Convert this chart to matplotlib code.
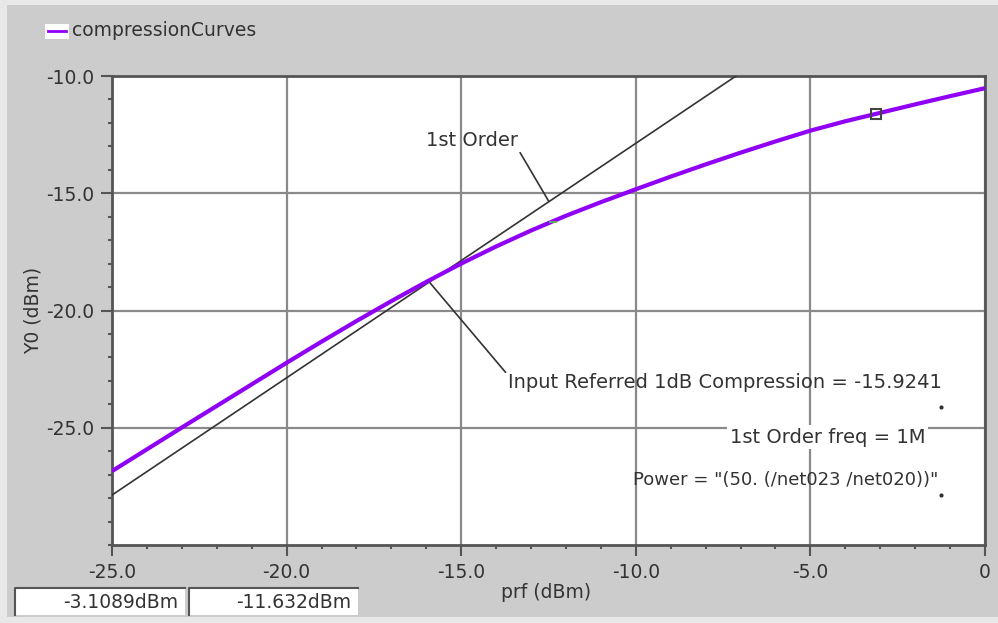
import numpy as np
import matplotlib.pyplot as plt
from matplotlib.patches import Rectangle
from matplotlib.lines import Line2D

plt.rcParams['axes.unicode_minus'] = False
plt.rcParams['font.family'] = ['DejaVu Sans']

# compression curve (dBm)
prf = [-25, -24, -23, -22, -21, -20, -19, -18, -17, -16, -15, -14, -13,
       -12, -11, -10, -9, -8, -7, -6, -5, -4, -3, -2, -1, 0]
y0 = [-26.85, -25.92, -24.99, -24.07, -23.15, -22.23, -21.33, -20.45, -19.60,
      -18.78, -18.00, -17.27, -16.59, -15.96, -15.38, -14.83, -14.29, -13.77,
      -13.27, -12.79, -12.33, -11.93, -11.57, -11.21, -10.86, -10.52]

# 1st order extrapolation line
first_x = [-25.0, -5.0]
first_y = [-27.87, -7.87]

# cursor marker and readout
cursor_x = -3.1089
cursor_y = -11.632

xticks = [-25, -20, -15, -10, -5, 0]
xtick_labels = ['-25.0', '-20.0', '-15.0', '-10.0', '-5.0', '0']
yticks = [-25, -20, -15, -10]
ytick_labels = ['-25.0', '-20.0', '-15.0', '-10.0']

W, H = 998, 623
purple = '#8f00f5'
fs = 13.5
afs = 14

fig = plt.figure(figsize=(W / 100, H / 100), dpi=100, facecolor='#e8e8e8')
fig.add_artist(Rectangle((7 / W, 6 / H), 991 / W, 612 / H, transform=fig.transFigure,
                         facecolor='#cccccc', edgecolor='none', zorder=-5))

ax = fig.add_axes([112 / W, 78 / H, 873 / W, 469 / H])
ax.set_facecolor('white')

ax.plot(first_x, first_y, color='#333333', lw=1.2, zorder=3)
ax.plot(prf, y0, color=purple, lw=3, solid_capstyle='butt', solid_joinstyle='round', zorder=4)
ax.plot([cursor_x], [cursor_y], marker='s', ms=7, mfc='none', mec='#444444', mew=1.5, zorder=5)
ax.plot([-12.36], [-16.22], marker='_', ms=6, color='#55cc44', mew=1.2, zorder=5)

ax.set_xlim(-25, 0)
ax.set_ylim(-30, -10)
ax.set_xticks(xticks)
ax.set_xticklabels(xtick_labels)
ax.set_yticks(yticks)
ax.set_yticklabels(ytick_labels)
ax.set_xticks(np.arange(-25, 1, 1), minor=True)
ax.set_yticks(np.arange(-30, -9, 1), minor=True)
ax.tick_params(which='major', direction='out', length=8, width=1.5, color='#555555',
               labelsize=fs, labelcolor='#333333', pad=5)
ax.tick_params(which='minor', direction='out', length=3, width=1.5, color='#555555')
ax.grid(True, which='major', color='#8a8a8a', lw=1.6)
ax.set_axisbelow(True)
for s in ax.spines.values():
    s.set_color('#555555')
    s.set_linewidth(2)

ax.set_xlabel('prf (dBm)', fontsize=fs, color='#333333')
ax.xaxis.set_label_coords(0.497, -0.08)
ax.set_ylabel('Y0 (dBm)', fontsize=fs, color='#333333')
ax.yaxis.set_label_coords(-0.08, 0.50)

# annotations
ax.annotate('1st Order', xy=(-12.49, -15.35), xytext=(-13.36, -13.15),
            ha='right', va='bottom', fontsize=afs, color='#333333',
            arrowprops=dict(arrowstyle='-', color='#333333', lw=1.2,
                            shrinkA=0, shrinkB=0, relpos=(1, 0)))
ax.annotate('Input Referred 1dB Compression = -15.9241', xy=(-15.9, -18.81),
            xytext=(-13.65, -23.06), ha='left', va='center', fontsize=afs, color='#333333',
            arrowprops=dict(arrowstyle='-', color='#333333', lw=1.2,
                            shrinkA=0, shrinkB=0, relpos=(0, 0.85)))
ax.text(-7.3, -25.4, '1st Order freq = 1M', ha='left', va='center', fontsize=afs,
        color='#333333', bbox=dict(facecolor='white', edgecolor='none', pad=2))
ax.text(-10.08, -27.23, 'Power = "(50. (/net023 /net020))"', ha='left', va='center',
        fontsize=13, color='#333333')
ax.plot([-1.26, -1.26], [-24.13, -27.87], ls='none', marker='o', ms=2, color='#333333')

# legend
fig.add_artist(Rectangle((45 / W, 1 - 39 / H), 24 / W, 15 / H, transform=fig.transFigure,
                         facecolor='white', edgecolor='none'))
fig.add_artist(Line2D([48 / W, 66 / W], [1 - 31 / H, 1 - 31 / H], transform=fig.transFigure,
                      color=purple, lw=2))
fig.text(72 / W, 1 - 31 / H, 'compressionCurves', ha='left', va='center', fontsize=fs,
         color='#333333')

# readout boxes
readouts = [f'{cursor_x:.4f}dBm', f'{cursor_y:.3f}dBm']
boxes = [(15, 185), (189, 358)]
for (x0, x1), txt in zip(boxes, readouts):
    fig.add_artist(Rectangle((x0 / W, 1 - 615 / H), (x1 - x0) / W, 27 / H,
                             transform=fig.transFigure, facecolor='white', edgecolor='none'))
    fig.add_artist(Line2D([x0 / W, x0 / W, x1 / W], [1 - 615 / H, 1 - 588 / H, 1 - 588 / H],
                          transform=fig.transFigure, color='#555555', lw=1.5))
    fig.text((x1 - 7) / W, 1 - 603 / H, txt, ha='right', va='center', fontsize=fs,
             color='#333333')

fig.savefig('out.png', dpi=100, facecolor=fig.get_facecolor())
